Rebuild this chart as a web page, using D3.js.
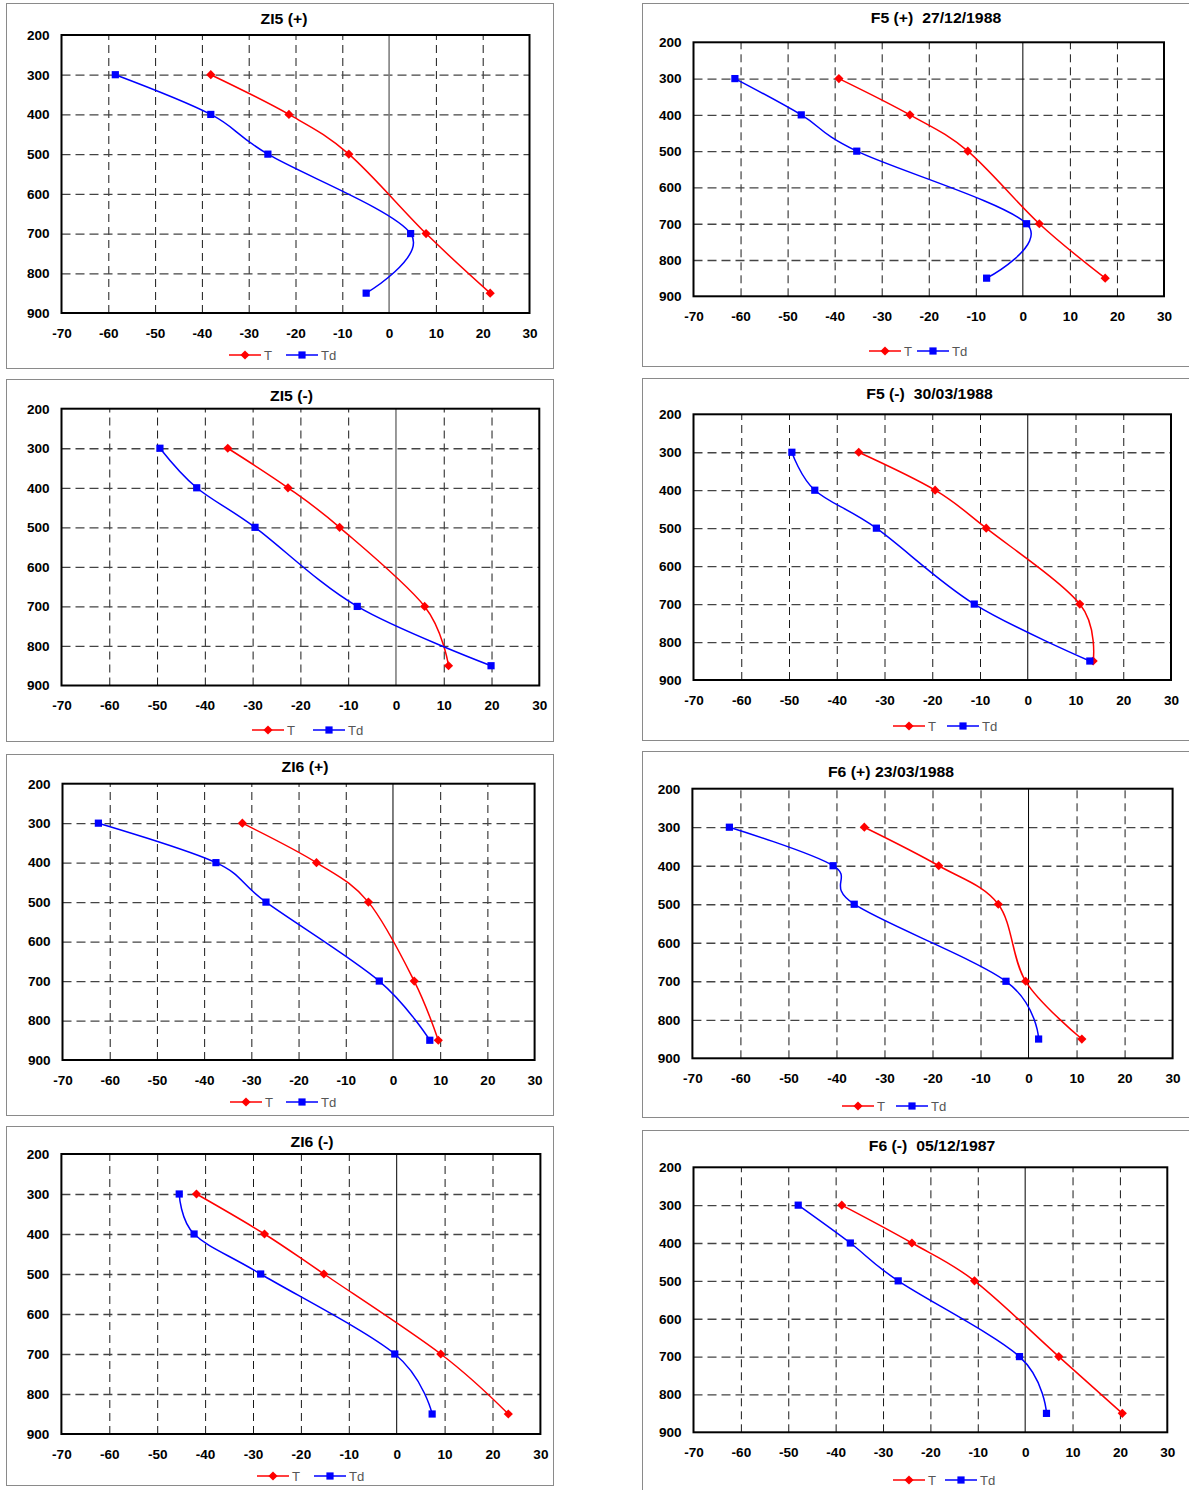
<!DOCTYPE html>
<html>
<head>
<meta charset="utf-8">
<script src="https://d3js.org/d3.v7.min.js"></script>
<style>
  body { margin: 0; background: #fff; }
  text { font-family: Arial, "Liberation Sans", sans-serif; }
</style>
</head>
<body>
<svg id="chart" width="1189" height="1490"></svg>
<script>
// pressure levels (hPa) of every sounding point
const levels = [300, 400, 500, 700, 850];

const titles = ["ZI5 (+)", "F5 (+)  27/12/1988", "ZI5 (-)", "F5 (-)  30/03/1988",
                "ZI6 (+)", "F6 (+) 23/03/1988", "ZI6 (-)", "F6 (-)  05/12/1987"];

// temperature T (°C), one row per panel
const tempT = [
  [-38.1, -21.4, -8.6, 7.9, 21.6],
  [-39.1, -24.0, -11.7, 3.5, 17.5],
  [-35.2, -22.6, -11.8, 6.0, 11.0],
  [-35.4, -19.4, -8.7, 10.9, 13.7],
  [-31.9, -16.2, -5.2, 4.5, 9.6],
  [-34.2, -18.7, -6.3, -0.6, 11.1],
  [-41.8, -27.6, -15.2, 9.2, 23.3],
  [-38.7, -23.9, -10.7, 7.1, 20.5]
];

// dew point Td (°C), one row per panel
const tempTd = [
  [-58.5, -38.1, -25.9, 4.6, -4.9],
  [-61.2, -47.1, -35.3, 0.8, -7.7],
  [-49.4, -41.7, -29.5, -8.1, 19.9],
  [-49.4, -44.6, -31.7, -11.2, 13.0],
  [-62.4, -37.5, -26.9, -2.9, 7.8],
  [-62.3, -40.7, -36.3, -4.7, 2.1],
  [-45.4, -42.3, -28.4, -0.4, 7.4],
  [-47.9, -36.9, -26.8, -1.2, 4.5]
];

const xTicks = [-70, -60, -50, -40, -30, -20, -10, 0, 10, 20, 30];
const yTicks = [200, 300, 400, 500, 600, 700, 800, 900];
const seriesNames = ["T", "Td"];

// page layout of the eight panels
const panels = [
  { box: [6.5, 3.5, 547, 365],   plot: [61.5, 529.5, 35, 313],     title: [284, 24],   legend: [229, 286, 355],  zero: "#808080" },
  { box: [642.5, 3.5, 560, 363], plot: [693.5, 1164, 42.3, 296.3], title: [936, 23],   legend: [869, 917, 351],  zero: "#000" },
  { box: [6.5, 379.5, 547, 362], plot: [61.5, 539.3, 408.7, 685.5],title: [291.5, 400.5], legend: [252, 313, 730], zero: "#808080" },
  { box: [642.5, 378.5, 560, 362], plot: [693.5, 1171, 414.3, 680], title: [929.5, 399], legend: [893, 947, 726], zero: "#000" },
  { box: [6.5, 754.5, 547, 361], plot: [62.5, 534.6, 783.7, 1060], title: [305, 772],  legend: [230, 286, 1102], zero: "#000" },
  { box: [642.5, 751.5, 560, 366], plot: [692.4, 1172.6, 788.7, 1058.3], title: [891, 776.5], legend: [842, 896, 1106], zero: "#000" },
  { box: [6.5, 1126.5, 547, 359], plot: [61.4, 540.4, 1154, 1434], title: [312, 1147], legend: [257, 314, 1476], zero: "#000" },
  { box: [642.5, 1130.5, 560, 400], plot: [693.5, 1167.3, 1167.3, 1432.3], title: [932, 1150.5], legend: [893, 945, 1480], zero: "#000" }
];

const sx = 1.13;
const red = "#ff0000", blue = "#0000ff";
const svg = d3.select("#chart");
svg.append("rect").attr("width", 1189).attr("height", 1490).attr("fill", "#fff");

function marker(sel, kind, cx, cy, color) {
  if (kind === 0) {
    sel.append("path")
      .attr("d", `M${cx},${cy - 4.6}L${cx + 4.6},${cy}L${cx},${cy + 4.6}L${cx - 4.6},${cy}Z`)
      .attr("fill", color);
  } else {
    sel.append("rect").attr("x", cx - 3.6).attr("y", cy - 3.6)
      .attr("width", 7.2).attr("height", 7.2).attr("fill", color);
  }
}

panels.forEach((p, i) => {
  const g = svg.append("g");
  const w = p.plot[1] - p.plot[0], h = p.plot[3] - p.plot[2];

  g.append("rect")
    .attr("x", p.box[0]).attr("y", p.box[1])
    .attr("width", p.box[2]).attr("height", p.box[3])
    .attr("fill", "none").attr("stroke", "#8a8a8a").attr("stroke-width", 1);

  const x = d3.scaleLinear().domain([-70, 30]).range([p.plot[0], p.plot[1]]);
  const y = d3.scaleLinear().domain([200, 900]).range([p.plot[2], p.plot[3]]);

  // vertical grid
  g.append("g").attr("transform", `translate(0,${p.plot[3]})`)
    .call(d3.axisBottom(x).tickValues(xTicks.filter(v => v > -70 && v < 30 && v !== 0)).tickSize(-h).tickFormat(""))
    .call(a => a.select(".domain").remove())
    .selectAll("line").attr("stroke", "#1a1a1a").attr("stroke-width", 1).attr("stroke-dasharray", "8,5");

  // horizontal grid
  g.append("g").attr("transform", `translate(${p.plot[0]},0)`)
    .call(d3.axisLeft(y).tickValues(yTicks.filter(v => v > 200 && v < 900)).tickSize(-w).tickFormat(""))
    .call(a => a.select(".domain").remove())
    .selectAll("line").attr("stroke", "#444").attr("stroke-width", 1.3).attr("stroke-dasharray", "9,5");

  // zero line
  g.append("line")
    .attr("x1", x(0)).attr("x2", x(0)).attr("y1", p.plot[2]).attr("y2", p.plot[3])
    .attr("stroke", p.zero).attr("stroke-width", p.zero === "#000" ? 1 : 1.6);

  // plot border
  g.append("rect")
    .attr("x", p.plot[0]).attr("y", p.plot[2]).attr("width", w).attr("height", h)
    .attr("fill", "none").attr("stroke", "#000").attr("stroke-width", 2);

  // x tick labels
  g.append("g").attr("transform", `translate(0,${p.plot[3]})`)
    .call(d3.axisBottom(x).tickValues(xTicks).tickSize(0).tickFormat(d => String(d)))
    .call(a => a.select(".domain").remove())
    .selectAll("text")
      .attr("y", 25).attr("dy", null)
      .attr("transform", `scale(${sx},1)`)
      .attr("font-size", 12).attr("font-weight", "bold").attr("fill", "#000");

  // y tick labels
  g.append("g").attr("transform", `translate(${p.plot[0] - 12},0)`)
    .call(d3.axisLeft(y).tickValues(yTicks).tickSize(0).tickFormat(d => String(d)))
    .call(a => a.select(".domain").remove())
    .selectAll("text")
      .attr("x", 0).attr("dy", "0.36em")
      .attr("transform", `scale(${sx},1)`)
      .attr("font-size", 12).attr("font-weight", "bold").attr("fill", "#000");

  // title
  g.append("text")
    .attr("transform", `translate(${p.title[0]},${p.title[1]}) scale(${sx},1)`)
    .attr("text-anchor", "middle").style("white-space", "pre")
    .attr("font-size", 14).attr("font-weight", "bold")
    .text(titles[i]);

  // series
  const line = d3.line().x(d => x(d[0])).y(d => y(d[1])).curve(d3.curveCardinal.tension(0));
  [tempT[i], tempTd[i]].forEach((vals, k) => {
    const color = k === 0 ? red : blue;
    const pts = vals.map((v, j) => [v, levels[j]]);
    g.append("path").attr("d", line(pts))
      .attr("fill", "none").attr("stroke", color).attr("stroke-width", 1.5);
    pts.forEach(d => marker(g, k, x(d[0]), y(d[1]), color));
  });

  // legend
  seriesNames.forEach((name, k) => {
    const lx = p.legend[k], ly = p.legend[2];
    const color = k === 0 ? red : blue;
    g.append("line").attr("x1", lx).attr("x2", lx + 32).attr("y1", ly).attr("y2", ly)
      .attr("stroke", color).attr("stroke-width", 1.5);
    marker(g, k, lx + 16, ly, color);
    g.append("text")
      .attr("transform", `translate(${lx + 35},${ly + 4.5}) scale(1.05,1)`)
      .attr("font-size", 12.5).attr("fill", "#555")
      .text(name);
  });
});
</script>
</body>
</html>
